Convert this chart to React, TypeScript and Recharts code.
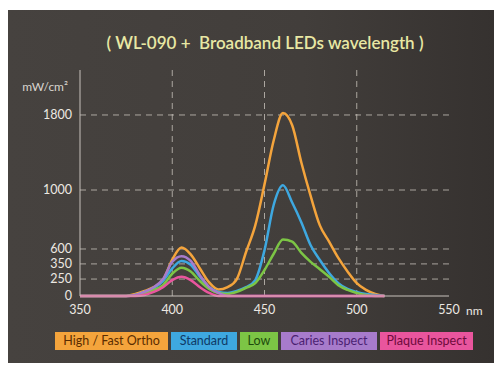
import { LineChart, Line, XAxis, YAxis, ReferenceLine } from 'recharts'

// wavelength in nm
const WAVELENGTHS = [
  350, 355, 360, 365, 370, 375, 380, 385, 390, 395, 400, 405, 410, 415, 420, 425, 430,
  435, 440, 445, 450, 455, 460, 465, 470, 475, 480, 485, 490, 495, 500, 505, 510, 515,
]

// mW/cm² per mode
const HIGH = [
  0, 0, 0, 0, 0, 0, 30, 75, 130, 235, 420, 610, 510, 320, 200, 95, 130,
  250, 550, 760, 1060, 1530, 1820, 1690, 1290, 960, 760, 650, 450, 300, 190, 90, 30, 0,
]
const STANDARD = [
  0, 0, 0, 0, 0, 0, 15, 60, 120, 220, 320, 400, 345, 265, 130, 60, 45,
  75, 130, 235, 580, 900, 1050, 915, 780, 625, 415, 290, 190, 105, 60, 30, 15, 0,
]
const LOW = [
  0, 0, 0, 0, 0, 0, 15, 45, 90, 160, 285, 325, 300, 220, 105, 45, 30,
  60, 120, 190, 310, 520, 665, 650, 535, 385, 315, 265, 160, 90, 45, 15, 0, 0,
]
const CARIES = [
  0, 0, 0, 0, 0, 0, 15, 60, 130, 250, 385, 480, 400, 275, 130, 45, 0,
  0, 0, 0, 0, 0, 0, 0, 0, 0, 0, 0, 0, 0, 0, 0, 0, 0,
]
const PLAQUE = [
  0, 0, 0, 0, 0, 0, 0, 15, 60, 130, 235, 265, 235, 130, 45, 0, 0,
  0, 0, 0, 0, 0, 0, 0, 0, 0, 0, 0, 0, 0, 0, 0, 0, 0,
]

const NAMES = ['High / Fast Ortho', 'Standard', 'Low', 'Caries Inspect', 'Plaque Inspect']
const KEYS = ['high', 'standard', 'low', 'caries', 'plaque']
const VALUES = [HIGH, STANDARD, LOW, CARIES, PLAQUE]

const X_TICKS = [350, 400, 450, 500, 550]
const X_GRID = [400, 450, 500]
const Y_TICKS = [0, 250, 350, 600, 1000, 1800]
const Y_TOP = 2280

const COLORS = ['#f4a43c', '#3ea8e0', '#7cc545', '#a77bcb', '#e9559d']
const INKS = ['#5a2c00', '#0f3a66', '#1d4a0c', '#4b1f72', '#6e0a3c']
const CHIP_W = [113, 66, 38, 96, 93]

// the printed axis is not linear: share of the axis height where each tick sits
const Y_SPOTS = [0, 0.075, 0.142, 0.208, 0.469, 0.801]

function bentScale() {
  let dom: number[] = [0, Y_TOP]
  let rng: number[] = [0, 1]
  const stopV = [...Y_TICKS, Y_TOP]
  const stopF = [...Y_SPOTS, 1]
  // eslint-disable-next-line @typescript-eslint/no-explicit-any
  const s: any = (v: number) => {
    let f = 1
    for (let i = 1; i < stopV.length; i++) {
      if (v <= stopV[i]) {
        const t = (v - stopV[i - 1]) / (stopV[i] - stopV[i - 1])
        f = stopF[i - 1] + t * (stopF[i] - stopF[i - 1])
        break
      }
    }
    return rng[0] + (rng[1] - rng[0]) * f
  }
  s.domain = (d?: number[]) => {
    if (!d) return dom
    dom = d
    return s
  }
  s.range = (r?: number[]) => {
    if (!r) return rng
    rng = r
    return s
  }
  s.copy = () => bentScale().domain(dom).range(rng)
  s.ticks = () => Y_TICKS
  return s
}

const rows = WAVELENGTHS.map((nm, i) => {
  const row: Record<string, number> = { nm }
  KEYS.forEach((k, j) => {
    row[k] = VALUES[j][i]
  })
  return row
})

const tickStyle = { fill: '#ece8e2', fontSize: 12.5 }
const dash = { stroke: '#cfcac2', strokeDasharray: '6 5', strokeOpacity: 0.75 }

export default function App() {
  return (
    <div
      style={{
        position: 'relative',
        top: 2,
        width: 492,
        height: 355,
        background: 'linear-gradient(90deg, #46423f 0%, #423e3b 60%, #35312f 100%)',
        fontFamily: 'Lato, "Open Sans", sans-serif',
        overflow: 'hidden',
      }}
    >
      <div
        style={{
          position: 'absolute',
          left: 57,
          width: 400,
          top: 22,
          textAlign: 'center',
          color: '#e8e8a4',
          fontSize: 17,
          fontWeight: 600,
          whiteSpace: 'pre',
        }}
      >
        {'( WL-090 +  Broadband LEDs wavelength )'}
      </div>
      <LineChart
        width={492}
        height={355}
        data={rows}
        margin={{ top: 60, right: 51, bottom: 39, left: 0 }}
      >
        {X_GRID.map((x) => (
          <ReferenceLine key={x} x={x} {...dash} />
        ))}
        {Y_TICKS.slice(1).map((y) => (
          <ReferenceLine key={y} y={y} {...dash} />
        ))}
        <XAxis
          dataKey="nm"
          type="number"
          domain={[350, 550]}
          ticks={X_TICKS}
          interval={0}
          height={30}
          tickSize={0}
          tickMargin={9}
          tick={tickStyle}
          stroke="#c8c2bc"
          label={{ value: 'nm', position: 'right', offset: 17, fill: '#ece8e2', fontSize: 12 }}
        />
        <YAxis
          type="number"
          domain={[0, Y_TOP]}
          scale={bentScale()}
          ticks={Y_TICKS}
          interval={0}
          width={72}
          tickSize={0}
          tickMargin={8}
          tick={tickStyle}
          stroke="#c8c2bc"
          label={{
            value: 'mW/cm²',
            position: 'insideTopRight',
            offset: 12,
            fill: '#d8d4ce',
            fontSize: 12,
          }}
        />
        {KEYS.map((k, i) => (
          <Line
            key={k}
            dataKey={k}
            name={NAMES[i]}
            type="monotone"
            stroke={COLORS[i]}
            strokeWidth={2.5}
            dot={false}
            isAnimationActive={false}
          />
        ))}
      </LineChart>
      <div
        style={{
          position: 'absolute',
          left: 47,
          top: 322,
          display: 'flex',
          gap: 3,
        }}
      >
        {NAMES.map((n, i) => (
          <span
            key={n}
            style={{
              width: CHIP_W[i],
              background: COLORS[i],
              color: INKS[i],
              fontSize: 12.5,
              lineHeight: '18px',
              textAlign: 'center',
              whiteSpace: 'nowrap',
            }}
          >
            {n}
          </span>
        ))}
      </div>
    </div>
  )
}
